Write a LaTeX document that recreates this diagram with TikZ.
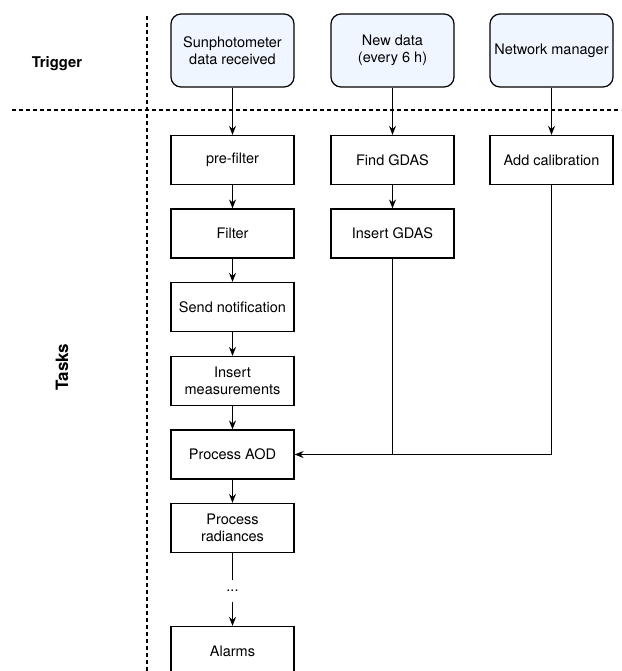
\documentclass[tikz,border=0pt]{standalone}
\usepackage{fontspec}
\setmainfont{TeX Gyre Heros}
\usetikzlibrary{arrows.meta}
\definecolor{trigfill}{HTML}{F0F6FF}
\begin{document}
\begin{tikzpicture}[x=1pt,y=-1pt,
  font=\fontsize{14.5}{17.5}\selectfont,
  trig/.style={draw, rounded corners=10pt, fill=trigfill, minimum width=123pt, minimum height=73pt, align=center, line width=1.2pt, inner sep=0pt},
  task/.style={draw, minimum width=123pt, minimum height=49pt, align=center, line width=1.2pt, inner sep=0pt},
  arr/.style={-{Stealth[length=9pt,width=7pt,inset=3pt]}, line width=1.2pt},
  conn/.style={line width=1.2pt},
  sep/.style={dash pattern=on 4pt off 3pt, line width=1.1pt},
  lbl/.style={font=\fontsize{14.8}{17.5}\selectfont\bfseries}]
\useasboundingbox (0,0) rectangle (621,671);

% separators
\draw[sep] (12,110) -- (621,110);
\draw[sep] (147,16) -- (147,671);

% section labels
\node[lbl] (trigger) at (57,63.5) {Trigger};
\node[lbl, font=\fontsize{17}{20}\selectfont\bfseries, rotate=90] (tasks) at (62,367) {Tasks};

% triggers
\node[trig] (sun) at (232.5,50.5) {Sunphotometer\\data received};
\node[trig] (new) at (392.5,50.5) {New data\\(every 6 h)};
\node[trig] (net) at (551.5,50.5) {Network manager};

% tasks column 1
\node[task] (pre) at (232.5,160) {pre-filter};
\node[task] (filt) at (232.5,233.5) {Filter};
\node[task] (notif) at (232.5,307) {Send notification};
\node[task] (ins) at (232.5,381) {Insert\\measurements};
\node[task] (aod) at (232.5,454.5) {Process AOD};
\node[task] (rad) at (232.5,528) {Process\\radiances};
\node[inner sep=0pt, minimum height=22pt] (dots) at (232.5,591) {...};
\node[task] (alarm) at (232.5,651) {Alarms};

% tasks column 2 and 3
\node[task] (fgdas) at (392.5,160) {Find GDAS};
\node[task] (igdas) at (392.5,233.5) {Insert GDAS};
\node[task] (cal) at (551.5,160) {Add calibration};

\coordinate (j) at (igdas.south |- aod.east);

% connectors
\draw[arr] (sun) -- (pre);
\draw[arr] (new) -- (fgdas);
\draw[arr] (net) -- (cal);
\draw[arr] (pre) -- (filt);
\draw[arr] (filt) -- (notif);
\draw[arr] (notif) -- (ins);
\draw[arr] (ins) -- (aod);
\draw[arr] (aod) -- (rad);
\draw[conn] (rad) -- (dots);
\draw[arr] (dots) -- (alarm);
\draw[arr] (fgdas) -- (igdas);
\draw[arr] (igdas.south) -- (j) -- (aod.east);
\draw[conn] (cal.south) |- (j);
\end{tikzpicture}
\end{document}
